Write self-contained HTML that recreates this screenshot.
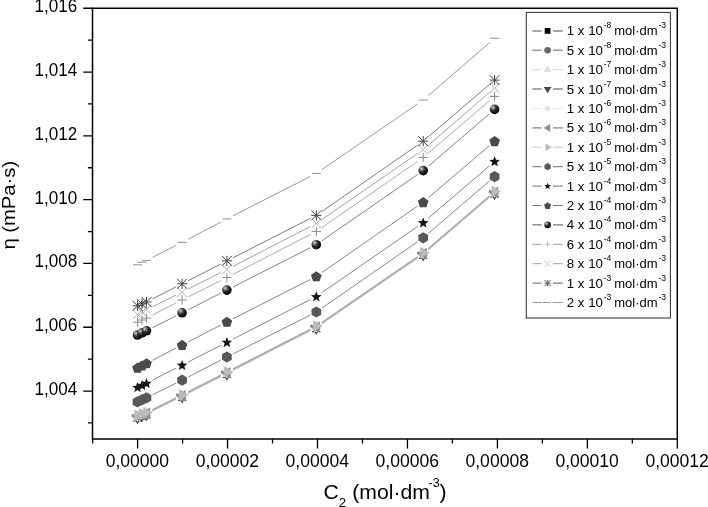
<!DOCTYPE html>
<html><head><meta charset="utf-8"><title>Viscosity chart</title>
<style>html,body{margin:0;padding:0;background:#fff}body{width:708px;height:507px;overflow:hidden;position:relative}</style>
</head><body>
<svg width="708" height="507" viewBox="0 0 708 507" style="display:block;position:absolute;left:0;top:0">
<defs><radialGradient id="sph" cx="0.33" cy="0.30" r="0.70"><stop offset="0" stop-color="#d4d4d4"/><stop offset="0.18" stop-color="#989898"/><stop offset="0.42" stop-color="#3c3c3c"/><stop offset="0.75" stop-color="#161616"/><stop offset="1" stop-color="#0a0a0a"/></radialGradient></defs>
<rect width="708" height="507" fill="#fff"/>
<path d="M152.6 410.89L176 399.31M188.15 393.21L220.85 376.49M232.95 370.3L310.25 330.7M321.91 323.75L417.59 258.05M428.36 249.77L489.44 197.33" stroke="#a4a4a4" stroke-width="0.9" fill="none"/>
<rect x="131.8" y="414.4" width="2.6" height="2.6" fill="#3c3c3c"/>
<rect x="133.3" y="420.3" width="2.2" height="1.3" fill="#444"/>
<rect x="140.1" y="420.3" width="1.6" height="1.3" fill="#555"/>
<rect x="136.3" y="412.8" width="2.6" height="2.6" fill="#3c3c3c"/>
<rect x="137.8" y="418.7" width="2.2" height="1.3" fill="#444"/>
<rect x="144.6" y="418.7" width="1.6" height="1.3" fill="#555"/>
<rect x="140.8" y="411.4" width="2.6" height="2.6" fill="#3c3c3c"/>
<rect x="142.3" y="417.3" width="2.2" height="1.3" fill="#444"/>
<rect x="149.1" y="417.3" width="1.6" height="1.3" fill="#555"/>
<rect x="176.4" y="393.8" width="2.6" height="2.6" fill="#3c3c3c"/>
<rect x="177.9" y="399.7" width="2.2" height="1.3" fill="#444"/>
<rect x="184.7" y="399.7" width="1.6" height="1.3" fill="#555"/>
<rect x="221.2" y="370.9" width="2.6" height="2.6" fill="#3c3c3c"/>
<rect x="222.7" y="376.8" width="2.2" height="1.3" fill="#444"/>
<rect x="229.5" y="376.8" width="1.6" height="1.3" fill="#555"/>
<rect x="310.6" y="325.1" width="2.6" height="2.6" fill="#3c3c3c"/>
<rect x="312.1" y="331" width="2.2" height="1.3" fill="#444"/>
<rect x="318.9" y="331" width="1.6" height="1.3" fill="#555"/>
<rect x="417.5" y="251.7" width="2.6" height="2.6" fill="#3c3c3c"/>
<rect x="419" y="257.6" width="2.2" height="1.3" fill="#444"/>
<rect x="425.8" y="257.6" width="1.6" height="1.3" fill="#555"/>
<rect x="488.9" y="190.4" width="2.6" height="2.6" fill="#3c3c3c"/>
<rect x="490.4" y="196.3" width="2.2" height="1.3" fill="#444"/>
<rect x="497.2" y="196.3" width="1.6" height="1.3" fill="#555"/>
<path d="M152.6 410.29L176 398.71M188.15 392.61L220.85 375.89M232.95 369.7L310.25 330.1M321.91 323.15L417.59 257.45M428.36 249.17L489.44 196.73" stroke="#989898" stroke-width="0.9" fill="none"/>
<path d="M152.6 409.29L176 397.71M188.15 391.61L220.85 374.89M232.95 368.7L310.25 329.1M321.91 322.15L417.59 256.45M428.36 248.17L489.44 195.73" stroke="#c4c4c4" stroke-width="0.9" fill="none"/>
<polygon points="132.1,418.8 142.9,418.8 137.5,409.5" fill="#dcdcdc"/>
<polygon points="136.6,417.2 147.4,417.2 142,407.9" fill="#dcdcdc"/>
<polygon points="141.1,415.8 151.9,415.8 146.5,406.5" fill="#dcdcdc"/>
<polygon points="176.7,398.2 187.5,398.2 182.1,388.9" fill="#dcdcdc"/>
<polygon points="221.5,375.3 232.3,375.3 226.9,366" fill="#dcdcdc"/>
<polygon points="310.9,329.5 321.7,329.5 316.3,320.2" fill="#dcdcdc"/>
<polygon points="417.8,256.1 428.6,256.1 423.2,246.8" fill="#dcdcdc"/>
<polygon points="489.2,194.8 500,194.8 494.6,185.5" fill="#dcdcdc"/>
<path d="M152.6 409.89L176 398.31M188.15 392.21L220.85 375.49M232.95 369.3L310.25 329.7M321.91 322.75L417.59 257.05M428.36 248.77L489.44 196.33" stroke="#9c9c9c" stroke-width="0.9" fill="none"/>
<polygon points="132.1,414.9 142.9,414.9 137.5,424.2" fill="#444"/>
<polygon points="136.6,413.3 147.4,413.3 142,422.6" fill="#444"/>
<polygon points="141.1,411.9 151.9,411.9 146.5,421.2" fill="#444"/>
<polygon points="176.7,394.3 187.5,394.3 182.1,403.6" fill="#444"/>
<polygon points="221.5,371.4 232.3,371.4 226.9,380.7" fill="#444"/>
<polygon points="310.9,325.6 321.7,325.6 316.3,334.9" fill="#444"/>
<polygon points="417.8,252.2 428.6,252.2 423.2,261.5" fill="#444"/>
<polygon points="489.2,190.9 500,190.9 494.6,200.2" fill="#444"/>
<path d="M152.6 410.99L176 399.41M188.15 393.31L220.85 376.59M232.95 370.4L310.25 330.8M321.91 323.85L417.59 258.15M428.36 249.87L489.44 197.43" stroke="#c8c8c8" stroke-width="0.9" fill="none"/>
<polygon points="132,416.2 137.5,410.7 143,416.2 137.5,421.7" fill="#e4e4e4"/>
<polygon points="136.5,414.6 142,409.1 147.5,414.6 142,420.1" fill="#e4e4e4"/>
<polygon points="141,413.2 146.5,407.7 152,413.2 146.5,418.7" fill="#e4e4e4"/>
<polygon points="176.6,395.6 182.1,390.1 187.6,395.6 182.1,401.1" fill="#e4e4e4"/>
<polygon points="221.4,372.7 226.9,367.2 232.4,372.7 226.9,378.2" fill="#e4e4e4"/>
<polygon points="310.8,326.9 316.3,321.4 321.8,326.9 316.3,332.4" fill="#e4e4e4"/>
<polygon points="417.7,253.5 423.2,248 428.7,253.5 423.2,259" fill="#e4e4e4"/>
<polygon points="489.1,192.2 494.6,186.7 500.1,192.2 494.6,197.7" fill="#e4e4e4"/>
<path d="M152.6 409.59L176 398.01M188.15 391.91L220.85 375.19M232.95 369L310.25 329.4M321.91 322.45L417.59 256.75M428.36 248.47L489.44 196.03" stroke="#a0a0a0" stroke-width="0.9" fill="none"/>
<polygon points="141.1,410.5 141.1,422.3 131.6,416.4" fill="#8c8c8c"/>
<polygon points="145.6,408.9 145.6,420.7 136.1,414.8" fill="#8c8c8c"/>
<polygon points="150.1,407.5 150.1,419.3 140.6,413.4" fill="#8c8c8c"/>
<polygon points="185.7,389.9 185.7,401.7 176.2,395.8" fill="#8c8c8c"/>
<polygon points="230.5,367 230.5,378.8 221,372.9" fill="#8c8c8c"/>
<polygon points="319.9,321.2 319.9,333 310.4,327.1" fill="#8c8c8c"/>
<polygon points="426.8,247.8 426.8,259.6 417.3,253.7" fill="#8c8c8c"/>
<polygon points="498.2,186.5 498.2,198.3 488.7,192.4" fill="#8c8c8c"/>
<path d="M152.6 410.59L176 399.01M188.15 392.91L220.85 376.19M232.95 370L310.25 330.4M321.91 323.45L417.59 257.75M428.36 249.47L489.44 197.03" stroke="#bcbcbc" stroke-width="0.9" fill="none"/>
<polygon points="134.4,409.5 134.4,421.3 143.7,415.4" fill="#bbbbbb"/>
<polygon points="138.9,407.9 138.9,419.7 148.2,413.8" fill="#bbbbbb"/>
<polygon points="143.4,406.5 143.4,418.3 152.7,412.4" fill="#bbbbbb"/>
<polygon points="179,388.9 179,400.7 188.3,394.8" fill="#bbbbbb"/>
<polygon points="223.8,366 223.8,377.8 233.1,371.9" fill="#bbbbbb"/>
<polygon points="313.2,320.2 313.2,332 322.5,326.1" fill="#bbbbbb"/>
<polygon points="420.1,246.8 420.1,258.6 429.4,252.7" fill="#bbbbbb"/>
<polygon points="491.5,185.5 491.5,197.3 500.8,191.4" fill="#bbbbbb"/>
<path d="M152.6 394.79L176 383.21M188.14 377.07L220.86 360.13M232.97 353.94L310.23 315.06M321.89 308.12L417.61 241.68M428.36 233.37L489.44 181.03" stroke="#6c6c6c" stroke-width="0.8" fill="none"/>
<polygon points="137.5,396.3 142.35,399.1 142.35,404.7 137.5,407.5 132.65,404.7 132.65,399.1" fill="#585858"/>
<polygon points="142,394.2 146.85,397 146.85,402.6 142,405.4 137.15,402.6 137.15,397" fill="#585858"/>
<polygon points="146.5,392.2 151.35,395 151.35,400.6 146.5,403.4 141.65,400.6 141.65,395" fill="#585858"/>
<polygon points="182.1,374.6 186.95,377.4 186.95,383 182.1,385.8 177.25,383 177.25,377.4" fill="#585858"/>
<polygon points="226.9,351.4 231.75,354.2 231.75,359.8 226.9,362.6 222.05,359.8 222.05,354.2" fill="#585858"/>
<polygon points="316.3,306.4 321.15,309.2 321.15,314.8 316.3,317.6 311.45,314.8 311.45,309.2" fill="#585858"/>
<polygon points="423.2,232.2 428.05,235 428.05,240.6 423.2,243.4 418.35,240.6 418.35,235" fill="#585858"/>
<polygon points="494.6,171 499.45,173.8 499.45,179.4 494.6,182.2 489.75,179.4 489.75,173.8" fill="#585858"/>
<path d="M152.56 380.12L176.04 368.18M188.15 362.01L220.85 345.29M232.95 339.1L310.25 299.6M321.89 292.63L417.61 226.47M428.36 218.17L489.44 165.83" stroke="#686868" stroke-width="0.8" fill="none"/>
<polygon points="137.5,382.1 138.92,385.75 142.83,385.97 139.79,388.44 140.79,392.23 137.5,390.11 134.21,392.23 135.21,388.44 132.17,385.97 136.08,385.75" fill="#161616"/>
<polygon points="142,380 143.42,383.65 147.33,383.87 144.29,386.34 145.29,390.13 142,388.01 138.71,390.13 139.71,386.34 136.67,383.87 140.58,383.65" fill="#161616"/>
<polygon points="146.5,378 147.92,381.65 151.83,381.87 148.79,384.34 149.79,388.13 146.5,386.01 143.21,388.13 144.21,384.34 141.17,381.87 145.08,381.65" fill="#161616"/>
<polygon points="182.1,359.9 183.52,363.55 187.43,363.77 184.39,366.24 185.39,370.03 182.1,367.91 178.81,370.03 179.81,366.24 176.77,363.77 180.68,363.55" fill="#161616"/>
<polygon points="226.9,337 228.32,340.65 232.23,340.87 229.19,343.34 230.19,347.13 226.9,345.01 223.61,347.13 224.61,343.34 221.57,340.87 225.48,340.65" fill="#161616"/>
<polygon points="316.3,291.3 317.72,294.95 321.63,295.17 318.59,297.64 319.59,301.43 316.3,299.31 313.01,301.43 314.01,297.64 310.97,295.17 314.88,294.95" fill="#161616"/>
<polygon points="423.2,217.4 424.62,221.05 428.53,221.27 425.49,223.74 426.49,227.53 423.2,225.41 419.91,227.53 420.91,223.74 417.87,221.27 421.78,221.05" fill="#161616"/>
<polygon points="494.6,156.2 496.02,159.85 499.93,160.07 496.89,162.54 497.89,166.33 494.6,164.21 491.31,166.33 492.31,162.54 489.27,160.07 493.18,159.85" fill="#161616"/>
<path d="M152.54 360.28L176.06 348.12M188.14 341.88L220.86 325.02M232.96 318.82L310.24 279.48M321.89 272.52L417.61 206.08M428.37 197.78L489.43 145.62" stroke="#686868" stroke-width="0.8" fill="none"/>
<polygon points="137.5,362.6 142.83,366.47 140.79,372.73 134.21,372.73 132.17,366.47" fill="#4a4a4a"/>
<polygon points="142,360.4 147.33,364.27 145.29,370.53 138.71,370.53 136.67,364.27" fill="#4a4a4a"/>
<polygon points="146.5,358.2 151.83,362.07 149.79,368.33 143.21,368.33 141.17,362.07" fill="#4a4a4a"/>
<polygon points="182.1,339.8 187.43,343.67 185.39,349.93 178.81,349.93 176.77,343.67" fill="#4a4a4a"/>
<polygon points="226.9,316.7 232.23,320.57 230.19,326.83 223.61,326.83 221.57,320.57" fill="#4a4a4a"/>
<polygon points="316.3,271.2 321.63,275.07 319.59,281.33 313.01,281.33 310.97,275.07" fill="#4a4a4a"/>
<polygon points="423.2,197 428.53,200.87 426.49,207.13 419.91,207.13 417.87,200.87" fill="#4a4a4a"/>
<polygon points="494.6,136 499.93,139.87 497.89,146.13 491.31,146.13 489.27,139.87" fill="#4a4a4a"/>
<path d="M152.57 327.73L176.03 315.87M188.17 309.73L220.83 293.17M232.96 287.02L310.24 247.78M321.89 240.83L417.61 174.47M428.36 166.17L489.44 113.83" stroke="#646464" stroke-width="0.8" fill="none"/>
<circle cx="137.5" cy="335" r="4.8" fill="url(#sph)"/>
<circle cx="142" cy="332.9" r="4.8" fill="url(#sph)"/>
<circle cx="146.5" cy="330.8" r="4.8" fill="url(#sph)"/>
<circle cx="182.1" cy="312.8" r="4.8" fill="url(#sph)"/>
<circle cx="226.9" cy="290.1" r="4.8" fill="url(#sph)"/>
<circle cx="316.3" cy="244.7" r="4.8" fill="url(#sph)"/>
<circle cx="423.2" cy="170.6" r="4.8" fill="url(#sph)"/>
<circle cx="494.6" cy="109.4" r="4.8" fill="url(#sph)"/>
<path d="M152.57 314.93L176.03 303.07M188.18 296.95L220.82 280.55M232.94 274.38L310.26 234.52M321.89 227.53L417.61 161.37M428.37 153.08L489.43 100.82" stroke="#959595" stroke-width="0.8" fill="none"/>
<path d="M132.9 322.2H142.1M137.5 317.6V326.8" stroke="#8c8c8c" stroke-width="1" fill="none"/>
<path d="M137.4 320H146.6M142 315.4V324.6" stroke="#8c8c8c" stroke-width="1" fill="none"/>
<path d="M141.9 318H151.1M146.5 313.4V322.6" stroke="#8c8c8c" stroke-width="1" fill="none"/>
<path d="M177.5 300H186.7M182.1 295.4V304.6" stroke="#8c8c8c" stroke-width="1" fill="none"/>
<path d="M222.3 277.5H231.5M226.9 272.9V282.1" stroke="#8c8c8c" stroke-width="1" fill="none"/>
<path d="M311.7 231.4H320.9M316.3 226.8V236" stroke="#8c8c8c" stroke-width="1" fill="none"/>
<path d="M418.6 157.5H427.8M423.2 152.9V162.1" stroke="#8c8c8c" stroke-width="1" fill="none"/>
<path d="M490 96.4H499.2M494.6 91.8V101" stroke="#8c8c8c" stroke-width="1" fill="none"/>
<path d="M152.6 306.79L176 295.21M188.17 289.13L220.83 272.57M232.94 266.38L310.26 226.52M321.9 219.54L417.6 153.46M428.35 145.16L489.45 92.54" stroke="#8c8c8c" stroke-width="0.8" fill="none"/>
<path d="M132.7 309.5L142.3 319.1M132.7 319.1L142.3 309.5" stroke="#b0b0b0" stroke-width="1" fill="none"/>
<path d="M137.2 307.2L146.8 316.8M137.2 316.8L146.8 307.2" stroke="#b0b0b0" stroke-width="1" fill="none"/>
<path d="M141.7 305L151.3 314.6M141.7 314.6L151.3 305" stroke="#b0b0b0" stroke-width="1" fill="none"/>
<path d="M177.3 287.4L186.9 297M177.3 297L186.9 287.4" stroke="#b0b0b0" stroke-width="1" fill="none"/>
<path d="M222.1 264.7L231.7 274.3M222.1 274.3L231.7 264.7" stroke="#b0b0b0" stroke-width="1" fill="none"/>
<path d="M311.5 218.6L321.1 228.2M311.5 228.2L321.1 218.6" stroke="#b0b0b0" stroke-width="1" fill="none"/>
<path d="M418.4 144.8L428 154.4M418.4 154.4L428 144.8" stroke="#b0b0b0" stroke-width="1" fill="none"/>
<path d="M489.8 83.3L499.4 92.9M489.8 92.9L499.4 83.3" stroke="#b0b0b0" stroke-width="1" fill="none"/>
<path d="M152.55 298.9L176.05 286.9M188.15 280.71L220.85 263.99M232.96 257.82L310.24 218.48M321.89 211.52L417.61 145.08M428.37 136.78L489.43 84.52" stroke="#5c5c5c" stroke-width="0.8" fill="none"/>
<path d="M132.4 305.8H142.6M137.5 300.7V310.9M132.55 300.85L142.45 310.75M132.55 310.75L142.45 300.85" stroke="#444" stroke-width="1" fill="none"/>
<path d="M136.9 303.8H147.1M142 298.7V308.9M137.05 298.85L146.95 308.75M137.05 308.75L146.95 298.85" stroke="#444" stroke-width="1" fill="none"/>
<path d="M141.4 302H151.6M146.5 296.9V307.1M141.55 297.05L151.45 306.95M141.55 306.95L151.45 297.05" stroke="#444" stroke-width="1" fill="none"/>
<path d="M177 283.8H187.2M182.1 278.7V288.9M177.15 278.85L187.05 288.75M177.15 288.75L187.05 278.85" stroke="#444" stroke-width="1" fill="none"/>
<path d="M221.8 260.9H232M226.9 255.8V266M221.95 255.95L231.85 265.85M221.95 265.85L231.85 255.95" stroke="#444" stroke-width="1" fill="none"/>
<path d="M311.2 215.4H321.4M316.3 210.3V220.5M311.35 210.45L321.25 220.35M311.35 220.35L321.25 210.45" stroke="#444" stroke-width="1" fill="none"/>
<path d="M418.1 141.2H428.3M423.2 136.1V146.3M418.25 136.25L428.15 146.15M418.25 146.15L428.15 136.25" stroke="#444" stroke-width="1" fill="none"/>
<path d="M489.5 80.1H499.7M494.6 75V85.2M489.65 75.15L499.55 85.05M489.65 85.05L499.55 75.15" stroke="#444" stroke-width="1" fill="none"/>
<path d="M152.57 257.33L176.03 245.47M188.12 239.24L220.88 222.06M232.96 215.82L310.24 176.48M321.91 169.55L417.59 103.95M428.34 95.65L489.46 42.75" stroke="#808080" stroke-width="0.8" fill="none"/>
<path d="M133 264.8H142" stroke="#999" stroke-width="1.1" fill="none"/>
<path d="M137.5 262.2H146.5" stroke="#999" stroke-width="1.1" fill="none"/>
<path d="M142 260.4H151" stroke="#999" stroke-width="1.1" fill="none"/>
<path d="M177.6 242.4H186.6" stroke="#999" stroke-width="1.1" fill="none"/>
<path d="M222.4 218.9H231.4" stroke="#999" stroke-width="1.1" fill="none"/>
<path d="M311.8 173.4H320.8" stroke="#999" stroke-width="1.1" fill="none"/>
<path d="M418.7 100.1H427.7" stroke="#999" stroke-width="1.1" fill="none"/>
<path d="M490.1 38.3H499.1" stroke="#999" stroke-width="1.1" fill="none"/>
<g stroke="#000" stroke-width="1.5" fill="none">
<path d="M92.5 8.25H677.3V438.9H92.5Z"/>
<path d="M83.2 8.25H92.5M83.2 72.05H92.5M83.2 135.85H92.5M83.2 199.65H92.5M83.2 263.45H92.5M83.2 327.25H92.5M83.2 391.05H92.5M87.9 40.15H92.5M87.9 103.95H92.5M87.9 167.75H92.5M87.9 231.55H92.5M87.9 295.35H92.5M87.9 359.15H92.5M87.9 422.95H92.5M137.6 438.9V448.5M227.55 438.9V448.5M317.5 438.9V448.5M407.45 438.9V448.5M497.4 438.9V448.5M587.35 438.9V448.5M677.3 438.9V448.5M92.63 438.9V443.4M182.58 438.9V443.4M272.53 438.9V443.4M362.48 438.9V443.4M452.43 438.9V443.4M542.38 438.9V443.4M632.33 438.9V443.4" stroke-width="1.3"/>
</g>
<g font-family='"Liberation Sans", Arial, sans-serif' fill="#000">
<text transform="translate(77.2 12.25) scale(0.97 1)" font-size="17.6" text-anchor="end">1,016</text>
<text transform="translate(77.2 76.05) scale(0.97 1)" font-size="17.6" text-anchor="end">1,014</text>
<text transform="translate(77.2 139.85) scale(0.97 1)" font-size="17.6" text-anchor="end">1,012</text>
<text transform="translate(77.2 203.65) scale(0.97 1)" font-size="17.6" text-anchor="end">1,010</text>
<text transform="translate(77.2 267.45) scale(0.97 1)" font-size="17.6" text-anchor="end">1,008</text>
<text transform="translate(77.2 331.25) scale(0.97 1)" font-size="17.6" text-anchor="end">1,006</text>
<text transform="translate(77.2 395.05) scale(0.97 1)" font-size="17.6" text-anchor="end">1,004</text>
<text transform="translate(137.4 467.4) scale(0.98 1)" font-size="17.9" text-anchor="middle">0,00000</text>
<text transform="translate(227.35 467.4) scale(0.98 1)" font-size="17.9" text-anchor="middle">0,00002</text>
<text transform="translate(317.3 467.4) scale(0.98 1)" font-size="17.9" text-anchor="middle">0,00004</text>
<text transform="translate(407.25 467.4) scale(0.98 1)" font-size="17.9" text-anchor="middle">0,00006</text>
<text transform="translate(497.2 467.4) scale(0.98 1)" font-size="17.9" text-anchor="middle">0,00008</text>
<text transform="translate(587.15 467.4) scale(0.98 1)" font-size="17.9" text-anchor="middle">0,00010</text>
<text transform="translate(677.1 467.4) scale(0.98 1)" font-size="17.9" text-anchor="middle">0,00012</text>
<text transform="translate(323.6 499) scale(1.06 1)" font-size="20" text-anchor="start">C</text>
<text transform="translate(338.7 507.3) scale(1 1)" font-size="13.2" text-anchor="start">2</text>
<text transform="translate(352.2 499) scale(1.06 1)" font-size="20" text-anchor="start">(mol·dm</text>
<text transform="translate(428.5 486.9) scale(1.02 1)" font-size="12.4" text-anchor="start">-3</text>
<text transform="translate(439.6 499) scale(1.06 1)" font-size="20" text-anchor="start">)</text>
<text transform="translate(14.8 249.6) rotate(-90) scale(1.065 1)" font-size="19">η (mPa·s)</text>
<rect x="526.3" y="12.4" width="144.1" height="305.6" fill="#fff" stroke="#333" stroke-width="1.05"/>
<path d="M532.5 30.9H541.6M553 30.9H562.8" stroke="#a6a6a6" stroke-width="2"/>
<rect x="544.7" y="28" width="5.8" height="5.8" fill="#000"/>
<text transform="translate(566.8 35.3) scale(1.08 1)" font-size="12.3" text-anchor="start">1 x 10</text>
<text transform="translate(603.7 28.3) scale(1 1)" font-size="8.6" text-anchor="start">-8</text>
<text transform="translate(614.2 35.3) scale(1.06 1)" font-size="12.3" text-anchor="start">mol·dm</text>
<text transform="translate(658.4 28.3) scale(1 1)" font-size="8.6" text-anchor="start">-3</text>
<path d="M532.5 50.3H541.6M553 50.3H562.8" stroke="#9a9a9a" stroke-width="1.6"/>
<circle cx="547.6" cy="50.3" r="3.3" fill="#666"/>
<text transform="translate(566.8 54.7) scale(1.08 1)" font-size="12.3" text-anchor="start">5 x 10</text>
<text transform="translate(603.7 47.7) scale(1 1)" font-size="8.6" text-anchor="start">-8</text>
<text transform="translate(614.2 54.7) scale(1.06 1)" font-size="12.3" text-anchor="start">mol·dm</text>
<text transform="translate(658.4 47.7) scale(1 1)" font-size="8.6" text-anchor="start">-3</text>
<path d="M532.5 69.7H541.6M553 69.7H562.8" stroke="#dedede" stroke-width="1.2"/>
<polygon points="543.8,71.8 551.4,71.8 547.6,65.5" fill="#dcdcdc"/>
<text transform="translate(566.8 74.1) scale(1.08 1)" font-size="12.3" text-anchor="start">1 x 10</text>
<text transform="translate(603.7 67.1) scale(1 1)" font-size="8.6" text-anchor="start">-7</text>
<text transform="translate(614.2 74.1) scale(1.06 1)" font-size="12.3" text-anchor="start">mol·dm</text>
<text transform="translate(658.4 67.1) scale(1 1)" font-size="8.6" text-anchor="start">-3</text>
<path d="M532.5 89.1H541.6M553 89.1H562.8" stroke="#a6a6a6" stroke-width="2"/>
<polygon points="543.8,87 551.4,87 547.6,93.3" fill="#444"/>
<text transform="translate(566.8 93.5) scale(1.08 1)" font-size="12.3" text-anchor="start">5 x 10</text>
<text transform="translate(603.7 86.5) scale(1 1)" font-size="8.6" text-anchor="start">-7</text>
<text transform="translate(614.2 93.5) scale(1.06 1)" font-size="12.3" text-anchor="start">mol·dm</text>
<text transform="translate(658.4 86.5) scale(1 1)" font-size="8.6" text-anchor="start">-3</text>
<path d="M532.5 108.5H541.6M553 108.5H562.8" stroke="#e6e6e6" stroke-width="1.2"/>
<polygon points="543.8,108.5 547.6,105 551.4,108.5 547.6,112" fill="#e4e4e4"/>
<text transform="translate(566.8 112.9) scale(1.08 1)" font-size="12.3" text-anchor="start">1 x 10</text>
<text transform="translate(603.7 105.9) scale(1 1)" font-size="8.6" text-anchor="start">-6</text>
<text transform="translate(614.2 112.9) scale(1.06 1)" font-size="12.3" text-anchor="start">mol·dm</text>
<text transform="translate(658.4 105.9) scale(1 1)" font-size="8.6" text-anchor="start">-3</text>
<path d="M532.5 127.9H541.6M553 127.9H562.8" stroke="#a6a6a6" stroke-width="1.8"/>
<polygon points="550.2,124.1 550.2,131.7 543.7,127.9" fill="#8c8c8c"/>
<text transform="translate(566.8 132.3) scale(1.08 1)" font-size="12.3" text-anchor="start">5 x 10</text>
<text transform="translate(603.7 125.3) scale(1 1)" font-size="8.6" text-anchor="start">-6</text>
<text transform="translate(614.2 132.3) scale(1.06 1)" font-size="12.3" text-anchor="start">mol·dm</text>
<text transform="translate(658.4 125.3) scale(1 1)" font-size="8.6" text-anchor="start">-3</text>
<path d="M532.5 147.3H541.6M553 147.3H562.8" stroke="#d8d8d8" stroke-width="1.6"/>
<polygon points="545.5,143.5 545.5,151.1 551.8,147.3" fill="#bbbbbb"/>
<text transform="translate(566.8 151.7) scale(1.08 1)" font-size="12.3" text-anchor="start">1 x 10</text>
<text transform="translate(603.7 144.7) scale(1 1)" font-size="8.6" text-anchor="start">-5</text>
<text transform="translate(614.2 151.7) scale(1.06 1)" font-size="12.3" text-anchor="start">mol·dm</text>
<text transform="translate(658.4 144.7) scale(1 1)" font-size="8.6" text-anchor="start">-3</text>
<path d="M532.5 166.7H541.6M553 166.7H562.8" stroke="#8a8a8a" stroke-width="1.2"/>
<polygon points="547.6,163.1 550.72,164.9 550.72,168.5 547.6,170.3 544.48,168.5 544.48,164.9" fill="#585858"/>
<text transform="translate(566.8 171.1) scale(1.08 1)" font-size="12.3" text-anchor="start">5 x 10</text>
<text transform="translate(603.7 164.1) scale(1 1)" font-size="8.6" text-anchor="start">-5</text>
<text transform="translate(614.2 171.1) scale(1.06 1)" font-size="12.3" text-anchor="start">mol·dm</text>
<text transform="translate(658.4 164.1) scale(1 1)" font-size="8.6" text-anchor="start">-3</text>
<path d="M532.5 186.1H541.6M553 186.1H562.8" stroke="#8a8a8a" stroke-width="1.2"/>
<polygon points="547.6,182.7 548.51,185.05 551.02,185.19 549.07,186.78 549.72,189.21 547.6,187.85 545.48,189.21 546.13,186.78 544.18,185.19 546.69,185.05" fill="#161616"/>
<text transform="translate(566.8 190.5) scale(1.08 1)" font-size="12.3" text-anchor="start">1 x 10</text>
<text transform="translate(603.7 183.5) scale(1 1)" font-size="8.6" text-anchor="start">-4</text>
<text transform="translate(614.2 190.5) scale(1.06 1)" font-size="12.3" text-anchor="start">mol·dm</text>
<text transform="translate(658.4 183.5) scale(1 1)" font-size="8.6" text-anchor="start">-3</text>
<path d="M532.5 205.5H541.6M553 205.5H562.8" stroke="#777" stroke-width="1.1"/>
<polygon points="547.6,202.2 551.12,204.76 549.77,208.89 545.43,208.89 544.08,204.76" fill="#4a4a4a"/>
<text transform="translate(566.8 209.9) scale(1.08 1)" font-size="12.3" text-anchor="start">2 x 10</text>
<text transform="translate(603.7 202.9) scale(1 1)" font-size="8.6" text-anchor="start">-4</text>
<text transform="translate(614.2 209.9) scale(1.06 1)" font-size="12.3" text-anchor="start">mol·dm</text>
<text transform="translate(658.4 202.9) scale(1 1)" font-size="8.6" text-anchor="start">-3</text>
<path d="M532.5 224.9H541.6M553 224.9H562.8" stroke="#777" stroke-width="1.3"/>
<circle cx="547.6" cy="224.9" r="3.3" fill="url(#sph)"/>
<text transform="translate(566.8 229.3) scale(1.08 1)" font-size="12.3" text-anchor="start">4 x 10</text>
<text transform="translate(603.7 222.3) scale(1 1)" font-size="8.6" text-anchor="start">-4</text>
<text transform="translate(614.2 229.3) scale(1.06 1)" font-size="12.3" text-anchor="start">mol·dm</text>
<text transform="translate(658.4 222.3) scale(1 1)" font-size="8.6" text-anchor="start">-3</text>
<path d="M532.5 244.3H541.6M553 244.3H562.8" stroke="#a0a0a0" stroke-width="1"/>
<path d="M544.8 244.3H550.4M547.6 241.5V247.1" stroke="#bcbcbc" stroke-width="1" fill="none"/>
<text transform="translate(566.8 248.7) scale(1.08 1)" font-size="12.3" text-anchor="start">6 x 10</text>
<text transform="translate(603.7 241.7) scale(1 1)" font-size="8.6" text-anchor="start">-4</text>
<text transform="translate(614.2 248.7) scale(1.06 1)" font-size="12.3" text-anchor="start">mol·dm</text>
<text transform="translate(658.4 241.7) scale(1 1)" font-size="8.6" text-anchor="start">-3</text>
<path d="M532.5 263.7H541.6M553 263.7H562.8" stroke="#a0a0a0" stroke-width="1"/>
<path d="M544.6 260.7L550.6 266.7M544.6 266.7L550.6 260.7" stroke="#c4c4c4" stroke-width="1" fill="none"/>
<text transform="translate(566.8 268.1) scale(1.08 1)" font-size="12.3" text-anchor="start">8 x 10</text>
<text transform="translate(603.7 261.1) scale(1 1)" font-size="8.6" text-anchor="start">-4</text>
<text transform="translate(614.2 268.1) scale(1.06 1)" font-size="12.3" text-anchor="start">mol·dm</text>
<text transform="translate(658.4 261.1) scale(1 1)" font-size="8.6" text-anchor="start">-3</text>
<path d="M532.5 283.1H541.6M553 283.1H562.8" stroke="#808080" stroke-width="1.1"/>
<path d="M544.4 283.1H550.8M547.6 279.9V286.3M544.5 280L550.7 286.2M544.5 286.2L550.7 280" stroke="#5c5c5c" stroke-width="1" fill="none"/>
<text transform="translate(566.8 287.5) scale(1.08 1)" font-size="12.3" text-anchor="start">1 x 10</text>
<text transform="translate(603.7 280.5) scale(1 1)" font-size="8.6" text-anchor="start">-3</text>
<text transform="translate(614.2 287.5) scale(1.06 1)" font-size="12.3" text-anchor="start">mol·dm</text>
<text transform="translate(658.4 280.5) scale(1 1)" font-size="8.6" text-anchor="start">-3</text>
<path d="M532.5 302.5H541.6M542.8 302.5H550.6M552.6 302.5H562.8" stroke="#999" stroke-width="1.1"/>
<text transform="translate(566.8 306.9) scale(1.08 1)" font-size="12.3" text-anchor="start">2 x 10</text>
<text transform="translate(603.7 299.9) scale(1 1)" font-size="8.6" text-anchor="start">-3</text>
<text transform="translate(614.2 306.9) scale(1.06 1)" font-size="12.3" text-anchor="start">mol·dm</text>
<text transform="translate(658.4 299.9) scale(1 1)" font-size="8.6" text-anchor="start">-3</text>
</g>
</svg>
</body></html>
